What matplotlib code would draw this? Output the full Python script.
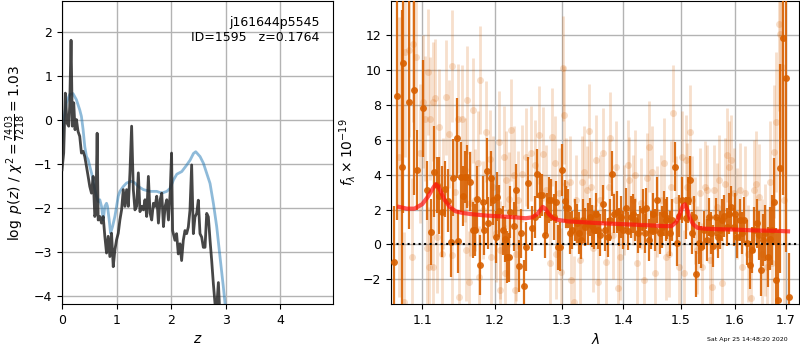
import matplotlib
matplotlib.use("Agg")
import matplotlib.pyplot as plt
import numpy as np
from matplotlib.ticker import FixedLocator, FixedFormatter, NullLocator

# ---------------- p(z) panel data ----------------
z_pz = [0.000, 0.031, 0.061, 0.092, 0.123, 0.141, 0.166, 0.190, 0.215, 0.239, 0.264, 0.294,
        0.325, 0.356, 0.387, 0.417, 0.448, 0.479, 0.509, 0.540, 0.571, 0.601, 0.620, 0.644,
        0.663, 0.693, 0.724, 0.755, 0.785, 0.816, 0.847, 0.877, 0.908, 0.926, 0.939, 0.969,
        1.000, 1.031, 1.061, 1.092, 1.123, 1.153, 1.184, 1.215, 1.245, 1.276, 1.307, 1.337,
        1.368, 1.399, 1.429, 1.460, 1.491, 1.521, 1.552, 1.583, 1.613, 1.644, 1.675, 1.706,
        1.736, 1.767, 1.798, 1.828, 1.859, 1.890, 1.920, 1.951, 1.982, 2.008, 2.027, 2.070,
        2.100, 2.131, 2.162, 2.192, 2.223, 2.254, 2.284, 2.315, 2.345, 2.376, 2.407, 2.437,
        2.468, 2.498, 2.529, 2.560, 2.590, 2.621, 2.652, 2.682, 2.713, 2.743, 2.774, 2.805,
        2.835, 2.866, 2.896, 2.930]
logp = [-1.13, -0.75, 0.61, -0.07, -0.14, 0.31, 1.81, -0.14, 0.39, -0.22, 0.01, -0.26,
        -0.37, -0.75, -0.71, -0.83, -1.05, -1.28, -1.51, -1.66, -1.28, -2.19, -2.11, -0.30,
        -2.27, -2.19, -2.34, -2.19, -2.64, -3.02, -2.64, -3.10, -2.57, -3.02, -3.33, -2.95,
        -2.72, -2.57, -2.27, -2.04, -1.58, -1.96, -1.58, -1.96, -1.20, -0.14, -1.58, -2.04,
        -1.96, -1.20, -2.08, -1.96, -2.04, -1.81, -2.19, -1.28, -2.11, -2.27, -1.89, -1.96,
        -1.73, -2.34, -1.81, -1.66, -2.42, -1.96, -1.81, -2.27, -1.66, -0.75, -2.51, -2.73,
        -2.58, -3.04, -2.81, -3.19, -2.73, -2.51, -2.58, -2.43, -2.05, -1.02, -2.58, -2.20,
        -2.12, -1.82, -2.58, -2.66, -2.89, -2.89, -2.12, -2.20, -2.73, -3.19, -3.72, -4.18,
        -4.26, -3.69, -4.50, -6.00]

z_prior = [0.000, 0.031, 0.080, 0.141, 0.202, 0.264, 0.325, 0.356, 0.387, 0.417, 0.448, 0.479,
           0.509, 0.540, 0.571, 0.601, 0.632, 0.663, 0.693, 0.724, 0.755, 0.785, 0.816, 0.834,
           0.865, 0.890, 0.926, 0.969, 1.000, 1.031, 1.061, 1.123, 1.184, 1.276, 1.337, 1.399,
           1.491, 1.613, 1.736, 1.828, 1.920, 1.982, 2.043, 2.104, 2.195, 2.287, 2.348, 2.409,
           2.451, 2.530, 2.591, 2.652, 2.713, 2.774, 2.835, 2.896, 2.957, 2.988, 3.030]
logp_prior = [-0.52, 0.00, 0.39, 0.58, 0.60, 0.46, 0.23, 0.08, -0.22, -0.60, -0.83, -0.90,
              -1.05, -1.20, -1.36, -1.58, -1.73, -1.85, -1.81, -1.96, -2.27, -1.96, -1.89, -1.96,
              -2.27, -2.57, -2.42, -2.19, -1.96, -1.73, -1.62, -1.51, -1.43, -1.39, -1.43, -1.51,
              -1.58, -1.62, -1.62, -1.66, -1.62, -1.55, -1.36, -1.23, -1.17, -1.02, -0.91, -0.76,
              -0.72, -0.83, -0.98, -1.21, -1.44, -1.89, -2.42, -3.11, -3.79, -4.17, -4.70]

# ---------------- spectrum panel data ----------------
wave_bin = [1.0630, 1.0673, 1.0737, 1.0757, 1.0822, 1.0895, 1.0939, 1.1018, 1.1061, 1.1114,
            1.1159, 1.1194, 1.1230, 1.1270, 1.1306, 1.1351, 1.1383, 1.1419, 1.1464, 1.1487,
            1.1524, 1.1547, 1.1579, 1.1612, 1.1648, 1.1685, 1.1718, 1.1751, 1.1788, 1.1826,
            1.1849, 1.1882, 1.1906, 1.1939, 1.1977, 1.2016, 1.2035, 1.2064, 1.2112, 1.2146,
            1.2170, 1.2204, 1.2228, 1.2277, 1.2316, 1.2355, 1.2389, 1.2424, 1.2463, 1.2488,
            1.2553, 1.2588, 1.2623, 1.2663, 1.2704, 1.2739, 1.2775, 1.2805, 1.2841, 1.2877,
            1.2907, 1.2943, 1.2979, 1.3005, 1.3046, 1.3072, 1.3098, 1.3135, 1.3166, 1.3203,
            1.3240, 1.3271, 1.3308, 1.3335, 1.3377, 1.3414, 1.3452, 1.3484, 1.3521, 1.3548,
            1.3586, 1.3618, 1.3656, 1.3700, 1.3738, 1.3776, 1.3809, 1.3847, 1.3886, 1.3930,
            1.3958, 1.3997, 1.4041, 1.4080, 1.4120, 1.4153, 1.4198, 1.4238, 1.4278, 1.4323,
            1.4363, 1.4391, 1.4437, 1.4471, 1.4506, 1.4541, 1.4581, 1.4622, 1.4657, 1.4698,
            1.4739, 1.4757, 1.4804, 1.4845, 1.4887, 1.4922, 1.4964, 1.5023, 1.5083, 1.5125,
            1.5161, 1.5203, 1.5234, 1.5276, 1.5325, 1.5367, 1.5416, 1.5465, 1.5508, 1.5551,
            1.5588, 1.5632, 1.5675, 1.5713, 1.5757, 1.5801, 1.5851, 1.5883, 1.5927, 1.5978,
            1.6010, 1.6042, 1.6093, 1.6137, 1.6182, 1.6234, 1.6286, 1.6331, 1.6377, 1.6429,
            1.6461, 1.6507, 1.6547, 1.6593, 1.6639, 1.6679, 1.6725, 1.6772, 1.6812, 1.6852,
            1.6879, 1.6939, 1.7014, 1.7061]
flux_bin = [-1.00, 8.50, 4.45, 10.42, 8.17, 8.84, 4.26, 7.79, 3.10, 0.73,
            4.16, 3.40, 2.80, 1.87, 3.20, 2.50, 0.13, 3.82, 6.10, 0.19,
            3.87, 2.77, 3.87, 3.87, 3.59, 0.82, 0.82, 2.58, -1.18, 2.44,
            0.82, 4.20, 1.24, 3.78, 2.54, 0.44, 2.73, 1.93, 0.82, 0.29,
            -0.71, -0.74, 1.87, 1.05, 3.11, -1.24, 0.63, -2.39, -0.13, 3.53,
            0.92, 1.58, 4.06, 2.82, 2.82, 0.53, 1.77, 2.54, 2.54, 1.58,
            2.44, -0.17, -0.13, 4.26, 2.50, 2.16, 2.06, 0.63, 0.82, 1.39,
            1.20, 0.63, 0.25, 1.39, 1.01, 1.16, 1.58, 1.05, 0.82, 1.77,
            0.82, 0.53, 2.31, 0.82, 0.40, 1.39, 4.06, 1.77, 1.87, 1.01,
            1.58, 0.82, 2.06, 0.78, 1.58, 1.77, 1.39, 0.63, 1.01, 1.97,
            0.63, 2.06, 0.25, 0.82, 1.74, 0.82, 2.54, 0.63, 1.01, 1.77,
            1.39, 1.49, 0.63, 1.39, 4.45, 0.06, 1.62, 2.54, 1.49, 2.54,
            3.68, 0.63, 1.58, -1.70, 0.06, -0.13, 0.82, 0.25, 1.58, 0.63,
            -0.10, 1.58, 0.40, 0.82, 1.39, 1.62, 1.01, 1.77, 2.16, 1.01,
            1.77, 0.44, 1.39, 0.63, 1.39, 0.10, -1.18, -0.32, 0.82, 1.20,
            0.53, -1.47, 0.25, 0.67, -0.71, 0.34, 0.82, 2.44, -2.04, -3.19,
            4.35, 11.83, 9.56, -3.00]
err_bin = [3.2, 7.1, 9.0, 8.6, 7.3, 6.0, 2.3, 2.8, 1.7, 1.9,
           2.6, 1.6, 2.2, 2.6, 1.6, 1.8, 2.0, 2.2, 2.3, 1.8,
           2.0, 1.7, 1.5, 1.8, 1.7, 1.6, 1.5, 1.9, 1.7, 1.5,
           1.4, 1.9, 1.5, 1.6, 1.4, 1.5, 1.4, 1.5, 1.4, 1.3,
           1.5, 1.4, 1.5, 1.4, 1.5, 1.5, 1.4, 1.5, 1.4, 1.5,
           1.3, 1.2, 1.4, 1.3, 1.2, 1.3, 1.2, 1.3, 1.2, 1.3,
           1.2, 1.3, 1.4, 1.5, 1.2, 1.2, 1.1, 1.2, 1.1, 1.2,
           1.1, 1.2, 1.1, 1.2, 1.1, 1.2, 1.1, 1.2, 1.1, 1.2,
           1.1, 1.2, 1.1, 1.2, 1.1, 1.2, 1.3, 1.1, 1.2, 1.1,
           1.2, 1.1, 1.2, 1.1, 1.2, 1.1, 1.2, 1.1, 1.2, 1.2,
           1.1, 1.2, 1.2, 1.1, 1.2, 1.2, 1.3, 1.2, 1.2, 1.3,
           1.2, 1.2, 1.3, 1.2, 1.4, 1.3, 1.2, 1.3, 1.2, 1.3,
           1.4, 1.2, 1.2, 1.3, 1.2, 1.2, 1.1, 1.2, 1.1, 1.2,
           1.2, 1.1, 1.2, 1.1, 1.2, 1.2, 1.1, 1.2, 1.2, 1.1,
           1.2, 1.2, 1.2, 1.2, 1.3, 1.3, 1.4, 1.3, 1.3, 1.4,
           1.4, 1.5, 1.5, 1.6, 1.7, 1.8, 2.0, 2.5, 3.0, 4.0,
           6.0, 9.0, 10.0, 2.5]

wave_raw = [1.0700, 1.0760, 1.0780, 1.0822, 1.0866, 1.0886, 1.0922, 1.0974, 1.1018, 1.1039,
            1.1062, 1.1083, 1.1096, 1.1105, 1.1141, 1.1149, 1.1172, 1.1195, 1.1230, 1.1262,
            1.1283, 1.1319, 1.1364, 1.1397, 1.1405, 1.1441, 1.1487, 1.1500, 1.1533, 1.1579,
            1.1590, 1.1611, 1.1639, 1.1648, 1.1685, 1.1718, 1.1755, 1.1779, 1.1788, 1.1826,
            1.1872, 1.1929, 1.1940, 1.1976, 1.2015, 1.2062, 1.2071, 1.2080, 1.2134, 1.2143,
            1.2169, 1.2202, 1.2242, 1.2280, 1.2290, 1.2316, 1.2339, 1.2404, 1.2463,
            1.2538, 1.2588, 1.2653, 1.2714, 1.2765, 1.2816, 1.2857, 1.2892, 1.2919, 1.2959,
            1.2996, 1.3021, 1.3036, 1.3073, 1.3125, 1.3152, 1.3193, 1.3231, 1.3283, 1.3326,
            1.3361, 1.3398, 1.3430, 1.3469, 1.3494, 1.3549, 1.3575, 1.3614, 1.3667, 1.3711,
            1.3754, 1.3782, 1.3820, 1.3876, 1.3902, 1.3942, 1.4014, 1.4069, 1.4098, 1.4153,
            1.4198, 1.4237, 1.4296, 1.4350, 1.4408, 1.4437, 1.4494, 1.4541, 1.4581, 1.4640,
            1.4698, 1.4738, 1.4786, 1.4816, 1.4862, 1.4905, 1.4964, 1.5023, 1.5053, 1.5084,
            1.5113, 1.5161, 1.5203, 1.5252, 1.5294, 1.5338, 1.5385, 1.5429, 1.5477, 1.5527,
            1.5570, 1.5601, 1.5652, 1.5695, 1.5757, 1.5802, 1.5840, 1.5883, 1.5916, 1.5978,
            1.6041, 1.6093, 1.6137, 1.6203, 1.6247, 1.6311, 1.6364, 1.6417, 1.6461, 1.6526,
            1.6594, 1.6625, 1.6693, 1.6725, 1.6773, 1.6813, 1.6859, 1.6893, 1.6925, 1.6960]
flux_raw = [5.00, -3.30, 11.00, 11.13, -0.71, 11.50, 10.74, 5.21, 8.17, 7.21,
            -0.23, 9.89, -1.28, 7.21, 8.17, -1.28, 8.36, 0.44, 6.74, -0.52,
            2.92, 8.42, 6.32, -0.61, 10.21, 3.02, 7.21, -3.00, 7.18, 4.26,
            -0.32, 8.26, -2.14, 2.35, 7.69, 2.54, 4.64, -1.85, 9.41, 1.97,
            6.45, 4.92, -0.71, 3.30, 0.63, 5.88, -0.32, -2.61, 5.02, -1.66,
            3.68, 2.58, 6.55, 3.97, -2.61, -0.52, 2.54, 4.06, 5.02,
            5.21, 4.54, 6.26, 5.17, 3.11, -1.09, 6.16, 4.64, -0.52, 2.92,
            -1.56, 10.08, 7.40, 3.49, 3.59, -2.04, -3.28, 2.54, -0.90, 3.59,
            4.16, 3.11, 6.49, 3.30, -0.23, 4.83, -2.14, 2.54, 5.21, -0.99,
            3.30, 6.11, 0.53, 4.45, -2.52, -0.71, 1.97, 4.54, 3.68, 2.54,
            3.97, -1.09, 2.35, -2.04, 3.78, 5.59, 4.16, -1.66, 1.87, 2.54,
            4.64, -0.71, -0.52, 3.30, 7.50, 2.54, -1.28, 5.02, -1.66, 4.83,
            3.30, 6.45, 2.54, 1.39, -0.32, 2.92, -1.28, 3.30, 3.11, -0.90,
            -2.42, 3.11, 2.16, 3.68, -2.23, 3.49, 5.11, 4.45, 4.83, 2.92,
            1.77, 3.11, -1.28, 2.92, -0.52, -3.09, 3.11, 3.49, 2.73, -0.52,
            0.25, -1.28, 3.59, -1.09, 5.31, 7.02, 12.65, 12.08, 10.17, 2.54]
err_raw = [8.0, 4.0, 6.0, 5.0, 4.5, 4.5, 4.2, 4.0, 3.8, 3.6,
           3.5, 3.6, 3.4, 3.5, 3.4, 3.3, 3.4, 3.2, 3.3, 3.2,
           3.2, 3.3, 3.1, 3.0, 3.2, 3.0, 3.1, 3.0, 3.1, 3.0,
           2.9, 3.1, 2.9, 3.0, 3.0, 2.9, 3.0, 2.9, 3.1, 2.8,
           2.9, 2.8, 2.8, 2.9, 2.8, 2.9, 2.8, 2.7, 2.9, 2.8,
           2.8, 2.7, 2.9, 2.8, 2.7, 2.7, 2.8, 2.8, 2.8,
           2.7, 2.6, 2.8, 2.7, 2.6, 2.6, 2.8, 2.7, 2.6, 2.6,
           2.5, 3.0, 2.8, 2.6, 2.6, 2.5, 2.6, 2.6, 2.5, 2.6,
           2.6, 2.5, 2.7, 2.6, 2.5, 2.6, 2.5, 2.6, 2.6, 2.5,
           2.6, 2.6, 2.5, 2.6, 2.5, 2.5, 2.6, 2.6, 2.5, 2.6,
           2.6, 2.5, 2.6, 2.5, 2.6, 2.6, 2.6, 2.5, 2.6, 2.6,
           2.6, 2.5, 2.5, 2.6, 2.8, 2.5, 2.5, 2.6, 2.5, 2.6,
           2.5, 2.7, 2.5, 2.5, 2.5, 2.6, 2.5, 2.6, 2.6, 2.5,
           2.6, 2.6, 2.5, 2.6, 2.6, 2.6, 2.7, 2.6, 2.6, 2.6,
           2.6, 2.7, 2.7, 2.7, 2.8, 2.9, 2.9, 3.0, 3.0, 3.1,
           3.2, 3.3, 3.5, 3.6, 3.8, 4.0, 5.0, 6.0, 6.0, 7.0]

wave_model = [1.070, 1.080, 1.090, 1.100, 1.108, 1.114, 1.118, 1.121, 1.125, 1.130, 1.137,
              1.145, 1.155, 1.170, 1.190, 1.210, 1.230, 1.245, 1.255, 1.263, 1.268, 1.271,
              1.275, 1.280, 1.287, 1.295, 1.310, 1.330, 1.360, 1.400, 1.440, 1.470, 1.483,
              1.492, 1.498, 1.503, 1.507, 1.511, 1.516, 1.522, 1.530, 1.545, 1.570, 1.600,
              1.640, 1.680, 1.705]
flux_model = [2.15, 2.05, 2.05, 2.30, 2.75, 3.20, 3.45, 3.35, 3.00, 2.55, 2.15,
              1.90, 1.80, 1.72, 1.65, 1.60, 1.55, 1.50, 1.55, 1.75, 2.00, 2.15,
              2.05, 1.75, 1.50, 1.40, 1.32, 1.28, 1.22, 1.16, 1.10, 1.05, 1.05,
              1.30, 1.75, 2.20, 2.30, 2.00, 1.50, 1.15, 0.95, 0.90, 0.87, 0.85,
              0.80, 0.78, 0.75]

root_name = "j161644p5545"
obj_id = 1595
z_best = 0.1764
chi2_num, chi2_den = 7403, 7218
timestamp = "Sat Apr 25 14:48:20 2020"

z_ticks = [0, 1, 2, 3, 4]
pz_yticks = [-4, -3, -2, -1, 0, 1, 2]
lam_ticks = [1.1, 1.2, 1.3, 1.4, 1.5, 1.6, 1.7]
flam_ticks = [-2, 0, 2, 4, 6, 8, 10, 12]

# ---------------- figure ----------------
plt.rcParams['font.size'] = 9
fig = plt.figure(figsize=(8, 3.5), dpi=100)
ax1 = fig.add_axes([0.0775, 0.131, 0.339, 0.866])
ax2 = fig.add_axes([0.489, 0.131, 0.510, 0.866])

ax1.plot(z_pz, logp, color='0.15', lw=2, alpha=0.85, zorder=3)
ax1.plot(z_prior, logp_prior, color='tab:blue', lw=2, alpha=0.5, zorder=2)
ax1.set_xlim(0, 4.97)
ax1.set_ylim(-4.18, 2.70)
ax1.set_xticks(z_ticks)
ax1.set_yticks(pz_yticks)
ax1.grid(True, color='0.7', lw=1)
ax1.set_xlabel('$z$', fontsize=10)
ax1.set_ylabel(r'$\log\ p(z)$' + ' / ' +
               r'$\chi^2=\frac{%d}{%d}=%.2f$' % (chi2_num, chi2_den, chi2_num / chi2_den),
               fontsize=10)
ax1.text(0.95, 0.95, '%s\nID=%d   z=%.4f' % (root_name, obj_id, z_best),
         ha='right', va='top', transform=ax1.transAxes, fontsize=9, linespacing=1.2)

orange = '#d86000'
ax2.errorbar(wave_raw, flux_raw, yerr=err_raw, fmt='o', color=orange, alpha=0.2,
             ms=5, elinewidth=2.0, mew=0, capsize=0, zorder=2)
ax2.errorbar(wave_bin, flux_bin, yerr=err_bin, fmt='o', color=orange, alpha=0.9,
             ms=5, elinewidth=1.6, mew=0, capsize=0, zorder=3)
ax2.plot(wave_model, flux_model, color='#ff1010', lw=3, alpha=0.7, zorder=4)
ax2.axhline(0, color='k', ls=':', lw=1.5, zorder=5)

ax2.set_xscale('log')
ax2.set_xlim(1.06, 1.728)
ax2.set_ylim(-3.42, 13.94)
ax2.xaxis.set_major_locator(FixedLocator(lam_ticks))
ax2.xaxis.set_major_formatter(FixedFormatter(['%.1f' % t for t in lam_ticks]))
ax2.xaxis.set_minor_locator(NullLocator())
ax2.set_yticks(flam_ticks)
ax2.grid(True, color='0.7', lw=1)
ax2.set_xlabel(r'$\lambda$', fontsize=10)
ax2.set_ylabel(r'$f_\lambda\times10^{-19}$', fontsize=10)

fig.text(0.985, 0.022, timestamp, ha='right', va='bottom', fontsize=4.5)

fig.savefig('out.png', dpi=100)
